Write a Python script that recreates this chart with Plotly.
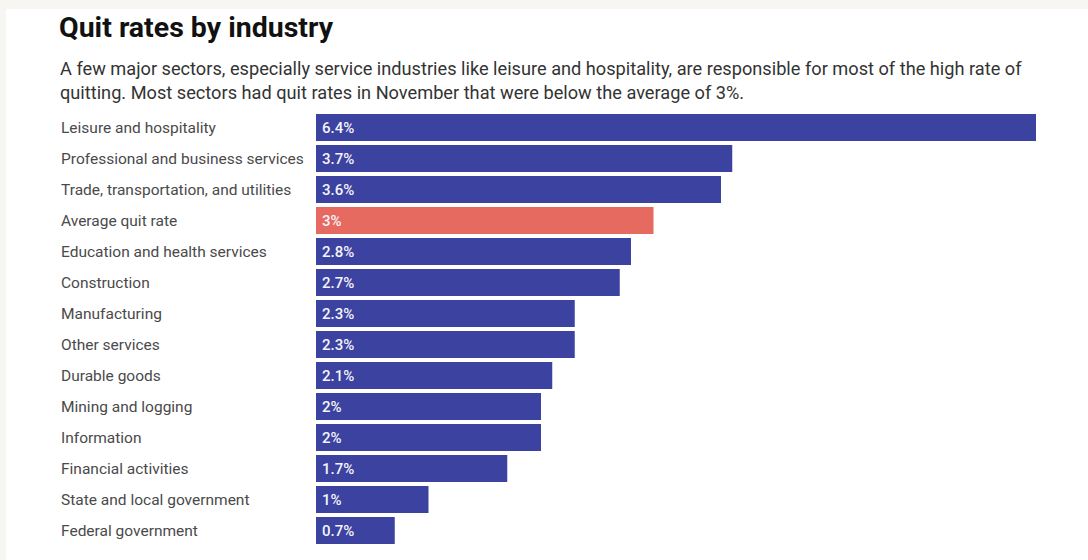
import plotly.graph_objects as go

categories = [
    "Leisure and hospitality",
    "Professional and business services",
    "Trade, transportation, and utilities",
    "Average quit rate",
    "Education and health services",
    "Construction",
    "Manufacturing",
    "Other services",
    "Durable goods",
    "Mining and logging",
    "Information",
    "Financial activities",
    "State and local government",
    "Federal government",
]
values = [6.4, 3.7, 3.6, 3.0, 2.8, 2.7, 2.3, 2.3, 2.1, 2.0, 2.0, 1.7, 1.0, 0.7]
value_labels = ["6.4%", "3.7%", "3.6%", "3%", "2.8%", "2.7%", "2.3%", "2.3%",
                "2.1%", "2%", "2%", "1.7%", "1%", "0.7%"]

BLUE = "#3c429f"
RED = "#e76a61"
colors = [RED if c == "Average quit rate" else BLUE for c in categories]

W, H = 1088, 560
ML, MR, MT, MB = 316, 52, 112, 14
plot_h = H - MT - MB
plot_w = W - ML - MR

def px_to_paper_x(px):
    return (px - ML) / plot_w

def px_to_paper_y(py):
    return (H - MB - py) / plot_h

fig = go.Figure()
fig.add_trace(go.Bar(
    x=values, y=categories, orientation="h",
    marker=dict(color=colors, line=dict(width=0)),
    hoverinfo="skip",
))

annotations = []
for c, v, lab in zip(categories, values, value_labels):
    annotations.append(dict(
        x=0, y=c, xref="x", yref="y", text=lab, showarrow=False,
        xanchor="left", yanchor="middle", xshift=4,
        font=dict(family="Roboto", size=15, color="#f4f4fa", weight=500),
    ))
    annotations.append(dict(
        x=px_to_paper_x(59), y=c, xref="paper", yref="y", text=c, showarrow=False,
        xanchor="left", yanchor="middle",
        font=dict(family="Roboto", size=15.5, color="#4a4a4a"),
    ))

annotations.append(dict(
    x=px_to_paper_x(57), y=px_to_paper_y(27), xref="paper", yref="paper",
    text="<b>Quit rates by industry</b>", showarrow=False,
    xanchor="left", yanchor="middle",
    font=dict(family="Roboto", size=28.5, color="#111111"),
))
annotations.append(dict(
    x=px_to_paper_x(58), y=px_to_paper_y(80), xref="paper", yref="paper",
    text=("A few major sectors, especially service industries like leisure and hospitality, are responsible for most of the high rate of<br>"
          "quitting. Most sectors had quit rates in November that were below the average of 3%."),
    showarrow=False, align="left", xanchor="left", yanchor="middle",
    font=dict(family="Roboto", size=18.2, color="#333333"),
))

fig.update_layout(
    width=W, height=H,
    margin=dict(l=ML, r=MR, t=MT, b=MB, pad=0),
    paper_bgcolor="#f7f6f3",
    plot_bgcolor="rgba(0,0,0,0)",
    showlegend=False,
    bargap=0.13,
    xaxis=dict(range=[0, 6.4], visible=False, fixedrange=True),
    yaxis=dict(categoryorder="array", categoryarray=categories,
               autorange=False, range=[len(categories) - 0.5, -0.5],
               visible=False, fixedrange=True),
    annotations=annotations,
    shapes=[dict(
        type="rect", xref="paper", yref="paper", layer="below",
        x0=px_to_paper_x(6), x1=px_to_paper_x(1088), y0=px_to_paper_y(560), y1=px_to_paper_y(9),
        fillcolor="#ffffff", line=dict(width=0),
    )],
)

fig.write_html("out.html")
